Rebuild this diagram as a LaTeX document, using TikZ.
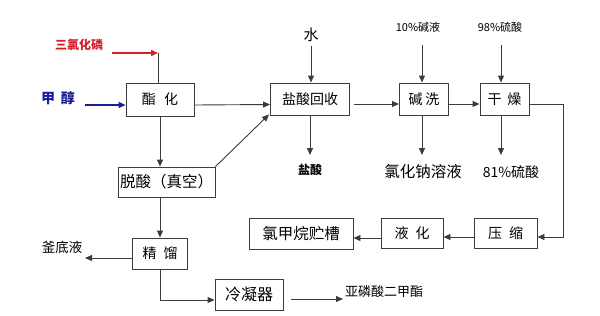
\documentclass[tikz,border=0pt]{standalone}
\usepackage{fontspec}
\setmainfont{Noto Sans CJK SC}
\usetikzlibrary{arrows.meta}
\definecolor{lc}{RGB}{60,60,60}
\definecolor{myred}{RGB}{215,30,40}
\definecolor{myblue}{RGB}{25,30,150}
\tikzset{
  box/.style={draw=lc, line width=0.9pt, inner sep=0pt, anchor=center, font=\fontsize{14}{14}\selectfont},
  lbl/.style={inner sep=0pt, anchor=center},
  flow/.style={draw=lc, line width=0.9pt, -{Triangle[length=7pt,width=6pt]}},
  plain/.style={draw=lc, line width=0.9pt}
}
\begin{document}
\begin{tikzpicture}[x=1pt,y=-1pt]
\useasboundingbox[fill=white] (0,0) rectangle (600,316);
% boxes
\node[box, minimum width=68pt, minimum height=33pt] (zh) at (160,99.5) {酯\hspace{0.6em}化};
\node[box, minimum width=79pt, minimum height=32pt] (hr) at (310,99) {盐酸回收};
\node[box, minimum width=49pt, minimum height=32pt] (jx) at (424,99) {碱\hspace{0.2em}洗};
\node[box, minimum width=49pt, minimum height=32pt] (gz) at (504.5,99) {干\hspace{0.4em}燥};
\node[box, minimum width=97pt, minimum height=30pt, font=\fontsize{15.5}{15.5}\selectfont] (ts) at (166.5,182) {脱酸（真空）};
\node[box, minimum width=55pt, minimum height=31pt] (jl) at (160,253.5) {精\hspace{0.5em}馏};
\node[box, minimum width=68pt, minimum height=31pt, font=\fontsize{16}{16}\selectfont] (ln) at (249,294.5) {冷凝器};
\node[box, minimum width=104pt, minimum height=31pt, font=\fontsize{15.5}{15.5}\selectfont] (cc) at (301,233.5) {氯甲烷贮槽};
\node[box, minimum width=62pt, minimum height=30pt] (yh) at (412,233) {液\hspace{0.5em}化};
\node[box, minimum width=63pt, minimum height=30pt] (ys) at (505.5,233) {压\hspace{0.5em}缩};
% labels
\node[lbl, font=\fontsize{12}{12}\selectfont\bfseries, text=myred] (pcl) at (79,45) {三氯化磷};
\node[lbl, font=\fontsize{14}{14}\selectfont\bfseries, text=myblue] (me) at (58,98) {甲\hspace{0.4em}醇};
\node[lbl, font=\fontsize{15}{15}\selectfont] (water) at (311,35) {水};
\node[lbl, font=\fontsize{11}{11}\selectfont] (naoh) at (418,27) {10\%碱液};
\node[lbl, font=\fontsize{11}{11}\selectfont] (hs) at (500,27) {98\%硫酸};
\node[lbl, font=\fontsize{12}{12}\selectfont\bfseries] (hcl) at (310,170) {盐酸};
\node[lbl, font=\fontsize{15.5}{15.5}\selectfont] (nacl) at (423,172) {氯化钠溶液};
\node[lbl, font=\fontsize{14}{14}\selectfont] (hs81) at (511,172) {81\%硫酸};
\node[lbl, font=\fontsize{13.5}{13.5}\selectfont] (fd) at (62,247) {釜底液};
\node[lbl, font=\fontsize{13}{13}\selectfont] (dmp) at (384,292) {亚磷酸二甲酯};
% coordinates
\coordinate (pclend) at (158,53);
\coordinate (mestart) at (85,105);
\coordinate (wtop) at (311,46);
\coordinate (hclend) at (310,155);
\coordinate (naohtop) at (422,45);
\coordinate (nacllend) at (422,155);
\coordinate (hstop) at (501,45);
\coordinate (hs81end) at (501,155);
\coordinate (rc) at (563,104);
\coordinate (fdend) at (85,258);
\coordinate (lnstart) at (160,300);
\coordinate (dmpstart) at (291,299);
\coordinate (dmpend) at (343,299);
% inputs
\draw[plain] (pclend) -- (pclend |- zh.north);
\draw[draw=myred, line width=1.5pt, -{Triangle[length=7pt,width=6pt]}] (112,53) -- (pclend);
\draw[draw=myblue, line width=1.5pt, -{Triangle[length=7pt,width=6pt]}] (mestart) -- (mestart -| zh.west);
% top row flows
\draw[flow] ([yshift=-5.5pt]zh.east) -- ([yshift=-5.5pt]hr.west);
\draw[flow] ([xshift=4pt,yshift=-5pt]hr.east) -- ([yshift=-5pt]jx.west);
\draw[flow] ([yshift=-5pt]jx.east) -- ([yshift=-5pt]gz.west);
\draw[flow] (wtop) -- (wtop |- hr.north);
\draw[flow] (hr.south) -- (hclend);
\draw[flow] (naohtop) -- (naohtop |- jx.north);
\draw[flow] (nacllend |- jx.south) -- (nacllend);
\draw[flow] (hstop) -- (hstop |- gz.north);
\draw[flow] (hs81end |- gz.south) -- (hs81end);
% right return
\draw[flow] ([yshift=-5pt]gz.east) -- (rc) -- (rc |- 0,237) -- (ys.east |- 0,237);
% bottom row
\draw[flow] (ys.west |- 0,237) -- (yh.east |- 0,237);
\draw[flow] (yh.west |- 0,238) -- (cc.east |- 0,238);
% left column
\draw[flow] (zh.south) -- (zh.south |- ts.north);
\draw[flow] (ts.north east) -- ([xshift=-1pt,yshift=1pt]hr.south west);
\draw[flow] (jl.north |- ts.south) -- (jl.north);
\draw[flow] (jl.west |- fdend) -- (fdend);
\draw[flow] (jl.south) -- (lnstart) -- (lnstart -| ln.west);
\draw[flow] (dmpstart) -- (dmpend);
\end{tikzpicture}
\end{document}
